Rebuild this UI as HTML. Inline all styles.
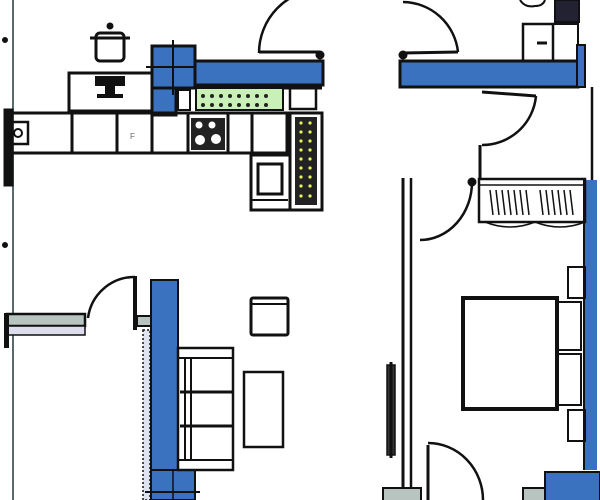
<!DOCTYPE html>
<html><head><meta charset="utf-8"><style>html,body{margin:0;padding:0;background:#fff;width:600px;height:500px;overflow:hidden}</style></head>
<body>
<svg width="600" height="500" viewBox="0 0 600 500" xmlns="http://www.w3.org/2000/svg">
<g fill="none" stroke="#111" stroke-width="3">
<!-- left outer line -->
<line x1="13" y1="0" x2="13" y2="500" stroke="#5a6a6a" stroke-width="2"/>
<circle cx="5" cy="40" r="1.5" fill="#111"/><circle cx="5" cy="245" r="1.5" fill="#111"/>
<!-- pot -->
<rect x="96" y="33" width="28" height="28" rx="4"/>
<line x1="90" y1="38" x2="130" y2="38"/><circle cx="110" cy="26" r="2" fill="#111"/>
<!-- counter block -->
<rect x="69" y="73" width="84" height="38" fill="#fff"/>
<path d="M95 76 h30 v10 h-10 v8 h8 v4 h-26 v-4 h8 v-8 h-10z" fill="#111" stroke="none"/>
<!-- blue column + wall -->
<rect x="152" y="46" width="43" height="42" fill="#3a72c0"/>
<rect x="152" y="88" width="24" height="27" fill="#3a72c0"/>
<line x1="173" y1="40" x2="173" y2="95" stroke-width="2"/>
<line x1="146" y1="67" x2="200" y2="67" stroke-width="2"/>
<rect x="195" y="61" width="128" height="24" fill="#3a72c0"/>
<line x1="195" y1="88" x2="322" y2="88"/>
<!-- top doors -->
<path d="M259 53 A64 64 0 0 1 322 -11" stroke-width="2.5"/>
<line x1="259" y1="52" x2="320" y2="52"/>
<rect x="400" y="61" width="178" height="26" fill="#3a72c0"/>
<path d="M403 2 A56 56 0 0 1 458 52" stroke-width="2.5"/>
<line x1="403" y1="53" x2="458" y2="52"/>
<circle cx="403" cy="55" r="3" fill="#111"/><circle cx="320" cy="55" r="3" fill="#111"/>
<!-- green strip -->
<rect x="196" y="88" width="87" height="22" fill="#c8f0b8" stroke-width="2"/>
<g fill="#222" stroke="none">
<circle cx="203" cy="96" r="2"/><circle cx="212" cy="96" r="2"/><circle cx="221" cy="96" r="2"/><circle cx="230" cy="96" r="2"/><circle cx="239" cy="96" r="2"/><circle cx="248" cy="96" r="2"/><circle cx="257" cy="96" r="2"/><circle cx="266" cy="96" r="2"/>
<circle cx="203" cy="105" r="2"/><circle cx="212" cy="105" r="2"/><circle cx="221" cy="105" r="2"/><circle cx="230" cy="105" r="2"/><circle cx="239" cy="105" r="2"/><circle cx="248" cy="105" r="2"/><circle cx="257" cy="105" r="2"/><circle cx="266" cy="105" r="2"/>
</g>
<rect x="178" y="90" width="12" height="20" stroke-width="2"/>
<rect x="290" y="87" width="26" height="22" stroke-width="2.5"/>
<!-- kitchen counter -->
<rect x="9" y="113" width="278" height="40" stroke-width="3"/>
<line x1="72" y1="113" x2="72" y2="153"/><line x1="117" y1="113" x2="117" y2="153"/><line x1="152" y1="113" x2="152" y2="153"/><line x1="188" y1="113" x2="188" y2="153"/><line x1="228" y1="113" x2="228" y2="153"/><line x1="252" y1="113" x2="252" y2="153"/>
<rect x="5" y="110" width="7" height="75" fill="#111"/>
<rect x="10" y="122" width="18" height="22" stroke-width="2.5"/>
<circle cx="18" cy="133" r="4" stroke-width="2"/>
<text x="130" y="139" font-family="Liberation Sans, sans-serif" font-size="8" fill="#666" stroke="none">F</text>
<rect x="191" y="118" width="34" height="32" fill="#222" stroke="none"/>
<circle cx="199" cy="125" r="3.5" fill="#fff" stroke="none"/><circle cx="212" cy="125" r="3.5" fill="#fff" stroke="none"/>
<circle cx="200" cy="140" r="5" fill="#fff" stroke="none"/><circle cx="216" cy="139" r="5" fill="#fff" stroke="none"/>
<!-- yellow column -->
<rect x="290" y="113" width="32" height="97" fill="#fff" stroke-width="3"/>
<rect x="295" y="117" width="22" height="88" fill="#222" stroke="none"/>
<g fill="#e8f060" stroke="none">
<circle cx="301" cy="123" r="1.6"/><circle cx="310" cy="123" r="1.6"/><circle cx="301" cy="132" r="1.6"/><circle cx="310" cy="132" r="1.6"/><circle cx="301" cy="141" r="1.6"/><circle cx="310" cy="141" r="1.6"/><circle cx="301" cy="150" r="1.6"/><circle cx="310" cy="150" r="1.6"/><circle cx="301" cy="159" r="1.6"/><circle cx="310" cy="159" r="1.6"/><circle cx="301" cy="168" r="1.6"/><circle cx="310" cy="168" r="1.6"/><circle cx="301" cy="177" r="1.6"/><circle cx="310" cy="177" r="1.6"/><circle cx="301" cy="186" r="1.6"/><circle cx="310" cy="186" r="1.6"/><circle cx="301" cy="196" r="1.6"/><circle cx="310" cy="196" r="1.6"/>
</g>
<!-- sink -->
<rect x="251" y="155" width="39" height="55"/>
<rect x="258" y="164" width="24" height="30" stroke-width="3"/>
<line x1="252" y1="200" x2="288" y2="200" stroke-width="2"/>
<!-- top right bathroom -->
<path d="M520 0 q5 8 15 6 q8 0 10 -6" stroke-width="2"/>
<rect x="555" y="0" width="24" height="22" fill="#223" stroke-width="2"/>
<rect x="523" y="24" width="30" height="37" stroke-width="2.5"/>
<rect x="553" y="24" width="25" height="37" stroke-width="2"/>
<line x1="537" y1="43" x2="547" y2="43"/>
<rect x="577" y="45" width="8" height="42" fill="#3a72c0" stroke-width="2"/>
<line x1="592" y1="87" x2="592" y2="180" stroke-width="2.5"/>
<rect x="585" y="180" width="12" height="290" fill="#3a72c0" stroke="none"/>
<line x1="584" y1="180" x2="584" y2="470" stroke-width="2"/>
<!-- corridor door -->
<line x1="482" y1="92" x2="536" y2="96"/>
<path d="M536 96 A54 54 0 0 1 482 145" stroke-width="2.5"/>
<line x1="480" y1="145" x2="480" y2="180"/>
<!-- wardrobe -->
<rect x="479" y="179" width="106" height="43" stroke-width="2.5"/>
<line x1="479" y1="185" x2="585" y2="185" stroke-width="1.5"/>
<g stroke-width="1.5">
<path d="M490 190 l3 25 M496 190 l3 25 M502 190 l3 25 M508 190 l3 25 M514 190 l3 25 M520 190 l3 25 M526 190 l3 25 M540 190 l3 25 M546 190 l3 25 M552 190 l3 25 M558 190 l3 25 M564 190 l3 25 M570 190 l3 25"/>
<path d="M485 222 q25 10 50 0 q25 10 50 0"/>
</g>
<!-- bedroom door + wall -->
<line x1="403" y1="178" x2="403" y2="500" stroke-width="3"/>
<line x1="411" y1="178" x2="411" y2="500" stroke-width="2.5"/>
<path d="M472 182 A52 58 0 0 1 420 240" stroke-width="2.5"/>
<circle cx="472" cy="182" r="3" fill="#111"/>
<rect x="387" y="365" width="8" height="90" fill="#333" stroke-width="1.5"/>
<line x1="391" y1="362" x2="391" y2="458" stroke-width="3"/>
<!-- bed -->
<rect x="463" y="298" width="94" height="111" stroke-width="4"/>
<rect x="557" y="302" width="24" height="48" stroke-width="2"/>
<rect x="557" y="354" width="24" height="51" stroke-width="2"/>
<rect x="568" y="267" width="17" height="31" stroke-width="2"/>
<rect x="568" y="410" width="17" height="31" stroke-width="2"/>
<!-- bottom right door -->
<line x1="428" y1="445" x2="428" y2="500" stroke-width="3"/>
<path d="M428 443 A55 57 0 0 1 483 500" stroke-width="2.5"/>
<rect x="383" y="488" width="38" height="14" fill="#b8c4c0" stroke-width="2"/>
<rect x="523" y="488" width="22" height="14" fill="#b8c4c0" stroke-width="2"/>
<rect x="545" y="472" width="55" height="30" fill="#3a72c0" stroke-width="2"/>
<!-- left window/door -->
<rect x="7" y="314" width="78" height="12" fill="#b8c4c0" stroke-width="2.5"/>
<rect x="7" y="326" width="78" height="9" fill="#dde" stroke-width="1.5"/>
<rect x="4" y="313" width="5" height="35" fill="#111" stroke="none"/>
<path d="M88 318 A47 47 0 0 1 135 277" stroke-width="2.5"/>
<line x1="135" y1="276" x2="135" y2="330" stroke-width="4"/>
<rect x="137" y="316" width="14" height="10" fill="#b8c4c0" stroke-width="2"/>
<rect x="143" y="330" width="7" height="170" fill="#dde4f0" stroke-width="1.5" stroke-dasharray="2 2"/>
<rect x="151" y="280" width="27" height="190" fill="#3a72c0" stroke-width="2"/>
<rect x="151" y="470" width="44" height="30" fill="#3a72c0" stroke-width="2"/>
<line x1="173" y1="470" x2="173" y2="500" stroke-width="1.5"/>
<line x1="145" y1="492" x2="200" y2="492" stroke-width="2"/>
<!-- sofa -->
<rect x="178" y="348" width="55" height="122" stroke-width="2.5"/>
<line x1="178" y1="358" x2="233" y2="358" stroke-width="2"/>
<line x1="178" y1="460" x2="233" y2="460" stroke-width="2"/>
<line x1="185" y1="358" x2="185" y2="460" stroke-width="2"/>
<line x1="191" y1="358" x2="191" y2="460" stroke-width="2"/>
<line x1="180" y1="392" x2="233" y2="392"/><line x1="180" y1="426" x2="233" y2="426"/>
<rect x="251" y="298" width="37" height="37" rx="2" stroke-width="3"/>
<line x1="251" y1="304" x2="288" y2="304" stroke-width="2"/>
<rect x="244" y="372" width="39" height="75" stroke-width="2.5"/>
</g>
</svg>
</body></html>
